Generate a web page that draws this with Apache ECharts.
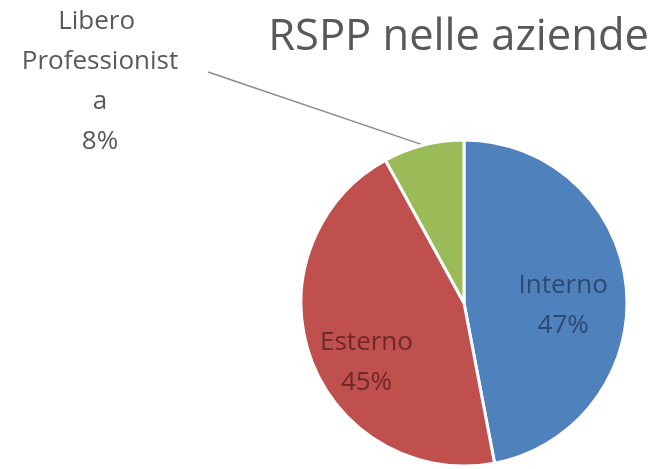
<!DOCTYPE html>
<html>
<head>
<meta charset="utf-8">
<script src="https://cdn.jsdelivr.net/npm/echarts@6/dist/echarts.min.js"></script>
<style>
  html, body { margin: 0; padding: 0; background: #fff; }
  #chart { width: 663px; height: 469px; }
</style>
</head>
<body>
<div id="chart"></div>
<script>
  // dati del grafico
  const categories = ['Interno', 'Esterno', 'Libero Professionista']
  const values = [47, 45, 8]
  const colors = ['#4F81BD', '#C0504D', '#9BBB59']
  const insideTextColors = ['#2b4a70', '#6e2927']

  // spostamento fine delle etichette interne (come nel grafico Excel)
  const labelShift = [[15, 11], [-18, 31]]

  const chart = echarts.init(document.getElementById('chart'))

  const data = categories.map(function (name, i) {
    const item = { name: name, value: values[i], itemStyle: { color: colors[i] } }
    if (i < 2) {
      item.label = { position: 'inside', color: insideTextColors[i] }
      item.labelLine = { show: false }
    }
    return item
  })

  chart.setOption({
    backgroundColor: '#fff',
    animation: false,
    title: {
      text: 'RSPP nelle aziende',
      right: 9,
      top: 11,
      textStyle: { fontFamily: 'Open Sans', fontSize: 43.5, fontWeight: 'normal', color: '#595959' }
    },
    series: [{
      type: 'pie',
      center: [464, 303],
      radius: 163,
      startAngle: 90,
      clockwise: true,
      itemStyle: { borderColor: '#fff', borderWidth: 3 },
      label: {
        position: 'outside',
        formatter: '{b}\n{d}%',
        fontFamily: 'Open Sans',
        fontSize: 26,
        lineHeight: 40,
        color: '#595959',
        align: 'center',
        width: 165,
        overflow: 'break'
      },
      labelLine: { show: true, lineStyle: { color: '#8c8c8c', width: 1.5 } },
      labelLayout: function (params) {
        if (params.dataIndex < 2) {
          const s = labelShift[params.dataIndex]
          return { dx: s[0], dy: s[1] }
        }
        // etichetta esterna in alto a sinistra, linea dritta fino alla fetta
        const pts = params.labelLinePoints
        const end = [208, 72]
        return {
          x: 100,
          y: 82,
          align: 'center',
          verticalAlign: 'middle',
          labelLinePoints: [pts[0], end, end]
        }
      },
      data: data
    }]
  })
</script>
</body>
</html>
